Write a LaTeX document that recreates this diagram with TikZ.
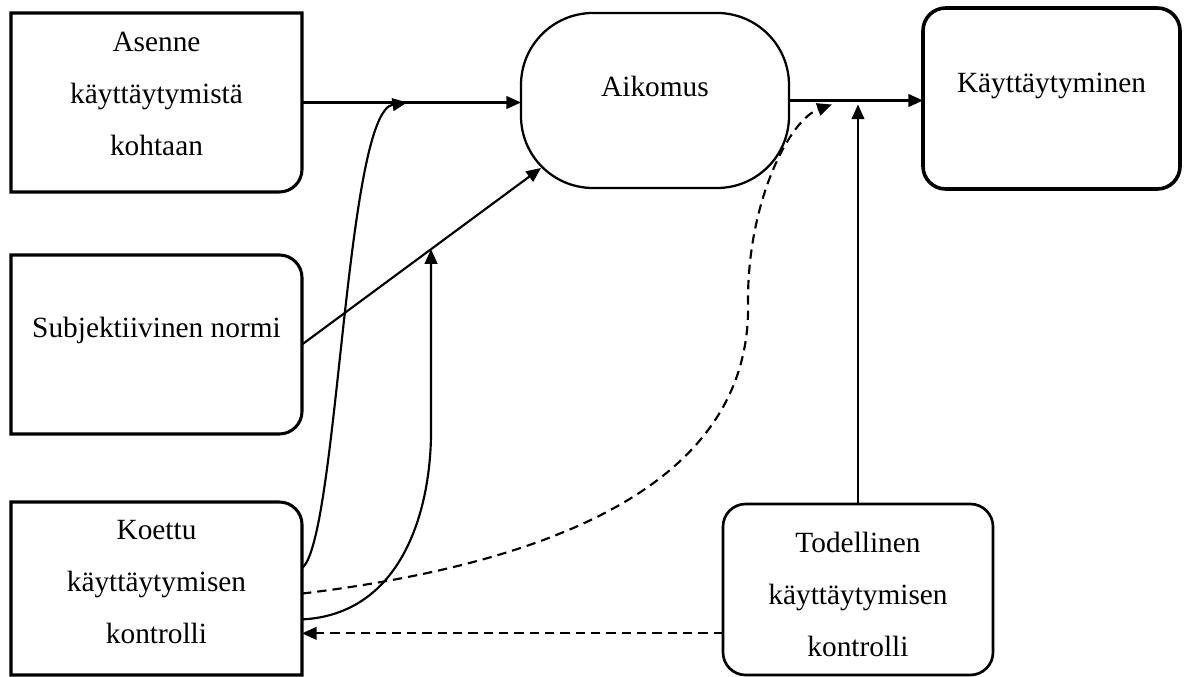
\documentclass[tikz,border=0pt]{standalone}
\usepackage{fontspec}
\setmainfont{Liberation Serif}
\usetikzlibrary{arrows.meta,calc}

\begin{document}
\begin{tikzpicture}[
  x=0.75pt, y=0.75pt,
  every node/.style={font=\fontsize{22pt}{39pt}\selectfont, align=center},
  boxframe/.style={inner sep=0pt, outer sep=0pt},
  box edge/.style={line width=2.3pt},
  aikomus shape/.style={draw, line width=1.7pt, rounded corners=54pt},
  kaytt shape/.style={draw, line width=2.7pt, rounded corners=17pt},
  todellinen shape/.style={draw, line width=2pt, rounded corners=17pt},
  link/.style={line width=1.6pt, -{Triangle[length=11pt,width=9.5pt]}},
  dashed link/.style={link, dash pattern=on 7pt off 4.5pt}
]
\useasboundingbox (0,0) rectangle (1189,-677);

\node[boxframe, minimum width=218.25pt, minimum height=134.25pt] (asenne) at (156.5,-102.5) {};
\node[boxframe, minimum width=218.25pt, minimum height=134.25pt] (normi) at (156.5,-344.5) {};
\node[boxframe, minimum width=218.25pt, minimum height=129.75pt] (koettu) at (156.5,-588.5) {};
\node[boxframe, aikomus shape, minimum width=201pt, minimum height=131.25pt] (aikomus) at (655,-100.5) {};
\node[boxframe, kaytt shape, minimum width=192.75pt, minimum height=135.75pt] (kaytt) at (1051.5,-98.5) {};
\node[boxframe, todellinen shape, minimum width=202.5pt, minimum height=128.25pt] (todellinen) at (858,-589.5) {};

\draw[box edge] (asenne.north west) -- (asenne.north east) -- ([yshift=17pt]asenne.south east)
  arc[start angle=0, end angle=-90, radius=17pt] -- (asenne.south west) -- cycle;
\draw[box edge] (normi.north west) -- ([xshift=-17pt]normi.north east)
  arc[start angle=90, end angle=0, radius=17pt] -- ([yshift=17pt]normi.south east)
  arc[start angle=0, end angle=-90, radius=17pt] -- (normi.south west) -- cycle;
\draw[box edge] (koettu.north west) -- ([xshift=-17pt]koettu.north east)
  arc[start angle=90, end angle=0, radius=17pt] -- (koettu.south east) -- (koettu.south west) -- cycle;

\node (asenne text) at (156.5,-94) {Asenne\\käyttäytymistä\\kohtaan};
\node (normi text) at (156.5,-330) {Subjektiivinen normi};
\node (koettu text) at (156.5,-582.5) {Koettu\\käyttäytymisen\\kontrolli};
\node (aikomus text) at (655,-86) {Aikomus};
\node (kaytt text) at (1051.5,-86) {Käyttäytyminen};
\node (todellinen text) at (858,-594) {Todellinen\\käyttäytymisen\\kontrolli};

\coordinate (j1) at ($(asenne.east)!0.48!(asenne.east -| aikomus.west)$);
\coordinate (aikomus sw) at ([shift={(20,20)}]aikomus.south west);
\coordinate (j3) at ($(normi.east)!0.54!(aikomus sw)$);
\coordinate (j2) at ($(aikomus.east)!0.32!(aikomus.east -| kaytt.west) + (0,-4)$);

\draw[link] (asenne.east) -- (asenne.east -| aikomus.west);
\draw[link] (aikomus.east) -- (aikomus.east -| kaytt.west);
\draw[link] (normi.east) -- (aikomus sw);
\draw[link] (koettu.8) .. controls +(36,27) and +(-62,-9) .. (j1);
\draw[link] (koettu.-12) .. controls +(100,5) and +(0,-80) .. ([yshift=-136pt]j3) -- (j3);
\draw[dashed link] (koettu.-2) .. controls +(298,36) and +(5,-160) .. (748,-300)
  .. controls +(0,100) and +(-42,-15) .. (j2);
\draw[link, shorten >=3pt] (todellinen.north) -- (todellinen.north |- aikomus.east);
\draw[dashed link] (todellinen.198) -- (todellinen.198 -| koettu.east);
\end{tikzpicture}
\end{document}
